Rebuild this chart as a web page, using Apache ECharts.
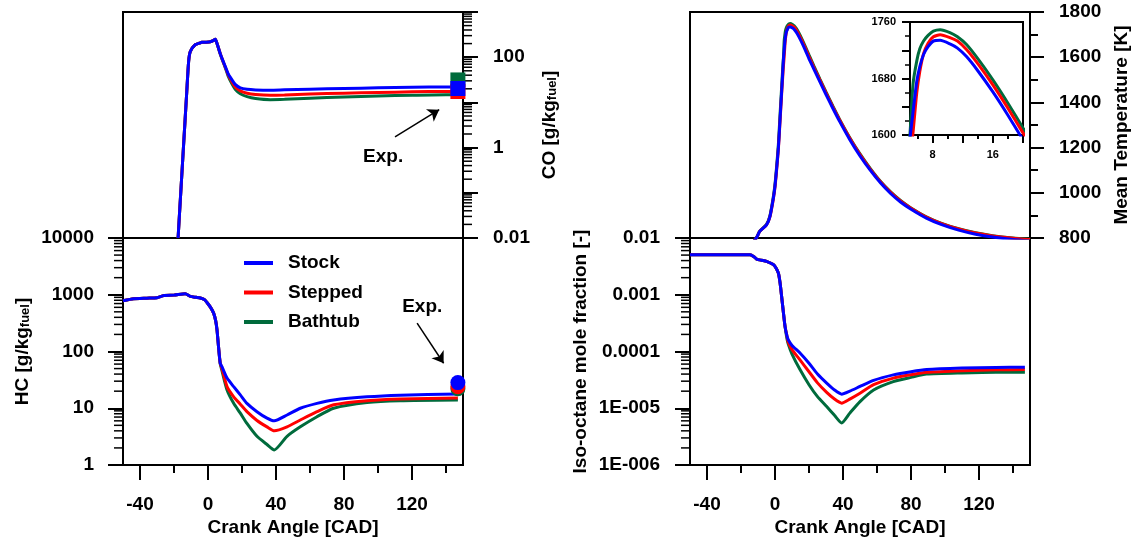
<!DOCTYPE html>
<html lang="en">
<head>
<meta charset="UTF-8">
<title>Crank angle results</title>
<script src="https://cdn.jsdelivr.net/npm/echarts@6/dist/echarts.min.js"></script>
<style>
  html, body { margin: 0; padding: 0; background: #fff; }
  #main { width: 1137px; height: 540px; }
</style>
</head>
<body>
<div id="main"></div>
<script>
// ---------- data ----------
var caseNames = ['Stock', 'Stepped', 'Bathtub'];
var caseColors = ['#0000ff', '#ff0000', '#006b3c'];

// CO [g/kg fuel]
var coCad = [-17.6, -16, -14.4, -12.5, -11.4, -10.4, -7.5, -5, -3.6, -1, 1.4, 3, 4.3, 5.5, 7.2, 8.7, 10.2, 12, 14, 16, 19, 23, 28, 36.6, 45, 60, 80, 100, 120, 140, 147];
var coStock = [0.01, 0.105, 1.08, 17, 80, 134, 189, 205, 213, 215, 220, 232, 250, 190, 120, 85, 62, 42, 32, 25, 21, 19.5, 18.9, 18.6, 19, 19.6, 20.3, 21, 21.5, 22, 22];
var coStepped = [0.01, 0.105, 1.08, 17, 80, 134, 189, 205, 213, 215, 220, 232, 250, 190, 120, 84, 60, 40, 29, 22, 18, 16, 15, 14.4, 14.6, 15.3, 16, 16.6, 17.1, 17.5, 17.5];
var coBathtub = [0.01, 0.105, 1.08, 17, 80, 134, 189, 205, 213, 215, 220, 232, 250, 190, 118, 82, 58, 37, 26, 19.5, 15.5, 13.4, 12.2, 11.5, 11.7, 12.4, 13.2, 13.9, 14.4, 14.8, 14.8];
var coExpCad = 147;
var coExp = [20.3, 17.4, 31.4];

// HC [g/kg fuel]
var hcCad = [-50, -43.8, -36, -30, -26, -20, -13.4, -10.4, -7, -4.5, -2, -0.6, 1.5, 3.3, 4.5, 5.3, 6.2, 7.2, 8.2, 11.2, 15.1, 19, 22.9, 28.8, 34.7, 39, 46.5, 54.3, 64.1, 73.9, 93.5, 113, 147];
var hcStock = [783, 850, 870, 884, 970, 985, 1040, 935, 900, 875, 820, 731, 600, 474, 350, 240, 120, 62, 54, 34, 24, 17.2, 12.2, 8.7, 6.7, 6.0, 7.6, 10, 12.2, 14, 15.9, 17, 17.9];
var hcStepped = [783, 850, 870, 884, 970, 985, 1040, 935, 900, 875, 820, 731, 600, 474, 350, 240, 120, 62, 50, 24, 15.9, 11.8, 8.7, 6.1, 4.7, 4.0, 4.7, 6.2, 8.7, 11.5, 13.6, 14.6, 15.1];
var hcBathtub = [783, 850, 870, 884, 970, 985, 1040, 935, 900, 875, 820, 731, 600, 474, 350, 240, 120, 60, 46, 21, 12.2, 8.2, 5.4, 3.2, 2.3, 1.84, 3.2, 4.7, 7.1, 10, 12.6, 13.6, 14];
var hcExpCad = 147;
var hcExp = [28.3, 24, 22];

// Mean temperature [K]
var tCad = [-50, -30, -20, -11, -9, -5, -3, -1, 0, 1, 2, 3, 4, 4.6, 5, 5.4, 5.9, 6.3, 6.8, 7.4, 8.1, 9, 10.3, 11.3, 12.5, 14, 16, 18, 20, 23, 26.5, 30, 34, 38, 44, 50, 56, 62, 68, 74, 80, 89, 98, 108, 118, 128, 140, 150];
var tStock = [560, 650, 720, 800, 829, 858, 895, 975, 1030, 1110, 1200, 1330, 1460, 1540, 1595, 1632, 1676, 1697, 1714, 1725, 1733, 1734, 1729, 1723, 1711, 1691, 1661, 1628, 1593, 1545, 1490, 1435, 1374, 1316, 1235, 1163, 1100, 1044, 997, 958, 927, 888, 859, 835, 817, 804, 793, 787];
var tStepped = [560, 650, 720, 800, 829, 858, 893, 972, 1025, 1105, 1195, 1320, 1450, 1520, 1565, 1603, 1660, 1690, 1715, 1730, 1739, 1742, 1738, 1733, 1721, 1701, 1671, 1638, 1603, 1553, 1497, 1442, 1380, 1322, 1241, 1169, 1105, 1049, 1002, 963, 932, 893, 864, 840, 822, 809, 799, 793];
var tBathtub = [560, 650, 720, 800, 830, 860, 898, 982, 1038, 1120, 1215, 1350, 1480, 1560, 1602, 1672, 1705, 1722, 1733, 1741, 1747, 1749, 1745, 1739, 1728, 1708, 1678, 1645, 1610, 1559, 1502, 1446, 1384, 1325, 1244, 1172, 1108, 1051, 1004, 965, 933, 894, 865, 841, 823, 810, 800, 795];

// Iso-octane mole fraction [-]
var isoCad = [-50, -30, -14.7, -12, -10.8, -8, -5, -1, 0.5, 2, 3, 3.9, 4.9, 5.9, 7, 7.8, 10, 14.7, 20, 25, 30.4, 35, 39.2, 44, 50, 58, 69.6, 80, 89.2, 110, 130, 147];
var isoStock = [0.00507, 0.00507, 0.00507, 0.0046, 0.00426, 0.00405, 0.00388, 0.0034, 0.003, 0.0024, 0.0016, 0.00093, 0.0005, 0.000277, 0.00019, 0.000161, 0.000128, 9.4e-5, 6.2e-5, 4.0e-5, 2.77e-5, 2.1e-5, 1.77e-5, 2.0e-5, 2.42e-5, 3.1e-5, 3.87e-5, 4.4e-5, 4.8e-5, 5.1e-5, 5.25e-5, 5.3e-5];
var isoStepped = [0.00507, 0.00507, 0.00507, 0.0046, 0.00426, 0.00405, 0.00388, 0.0034, 0.003, 0.0024, 0.0016, 0.00093, 0.0005, 0.000277, 0.00019, 0.000145, 0.000108, 7.1e-5, 4.4e-5, 2.8e-5, 1.9e-5, 1.45e-5, 1.23e-5, 1.45e-5, 1.84e-5, 2.6e-5, 3.4e-5, 3.9e-5, 4.3e-5, 4.6e-5, 4.75e-5, 4.8e-5];
var isoBathtub = [0.00507, 0.00507, 0.00507, 0.0046, 0.00426, 0.00405, 0.00388, 0.0034, 0.003, 0.0024, 0.0016, 0.00093, 0.0005, 0.000277, 0.00017, 0.000135, 9.0e-5, 4.8e-5, 2.6e-5, 1.6e-5, 1.07e-5, 7.5e-6, 5.5e-6, 8.2e-6, 1.31e-5, 2.1e-5, 2.95e-5, 3.5e-5, 4.0e-5, 4.2e-5, 4.3e-5, 4.3e-5];

// ticks
var xMajor = [-40, 0, 40, 80, 120];
var xMinor = [-20, 20, 60, 100, 140];
var insetXMajor = [8, 12, 16, 20];
var insetXLabels = [8, 16];
var insetXMinor = [6, 10, 14, 18];
var coLabelValues = [0.01, 1, 100];
var coLabels = ['0.01', '1', '100'];
var hcLabelValues = [1, 10, 100, 1000, 10000];
var hcLabels = ['1', '10', '100', '1000', '10000'];
var isoLabelValues = [1e-6, 1e-5, 1e-4, 1e-3, 1e-2];
var isoLabels = ['1E-006', '1E-005', '0.0001', '0.001', '0.01'];

// annotation anchors (data coords)
var coArrow = [[110, 1.72], [136, 6.9]];
var coText = [103, 0.64];
var hcArrow = [[123, 316], [138.6, 62]];
var hcText = [126, 621];

// ---------- helpers ----------
var X_MIN = -50, X_MAX = 150;
var FONT = 'Liberation Sans';
var black = '#000';

function zip(xs, ys) {
    return xs.map(function (x, i) { return [x, ys[i]]; });
}

function minorLog(e0, e1, edge) {
    var out = [];
    for (var e = e0; e < e1; e++) {
        for (var k = 2; k < 10; k++) out.push([edge, k * Math.pow(10, e)]);
    }
    return out;
}

function logLabel(values, labels) {
    return function (v) {
        for (var i = 0; i < values.length; i++) {
            if (Math.abs(Math.log10(v) - Math.log10(values[i])) < 1e-6) return labels[i];
        }
        return '';
    };
}

var labelStyle = { fontFamily: FONT, fontSize: 19, fontWeight: 'bold', color: black };
var nameStyle = {
    fontFamily: FONT, fontSize: 19, fontWeight: 'bold', color: black,
    rich: {
        a: { fontFamily: FONT, fontSize: 19, fontWeight: 'bold', color: black },
        b: { fontFamily: FONT, fontSize: 13, fontWeight: 'bold', color: black, verticalAlign: 'bottom', padding: [5, 0, 0, 0] }
    }
};
var axisLineStyle = { show: true, onZero: false, lineStyle: { color: black, width: 2 } };

function xTop(grid) {
    return {
        type: 'value', gridIndex: grid, position: 'bottom', min: X_MIN, max: X_MAX,
        axisLine: axisLineStyle, axisTick: { show: false }, axisLabel: { show: false }, splitLine: { show: false }
    };
}
function xBottom(grid) {
    return {
        type: 'value', gridIndex: grid, position: 'bottom', min: X_MIN, max: X_MAX,
        name: 'Crank Angle [CAD]', nameLocation: 'middle', nameGap: 53, nameTextStyle: labelStyle,
        axisLine: axisLineStyle,
        axisTick: { customValues: xMajor, length: 15, lineStyle: { color: black, width: 2 } },
        axisLabel: Object.assign({ customValues: xMajor, margin: 30 }, labelStyle),
        splitLine: { show: false }
    };
}
function xMinorAxis(grid, min, max, vals, len) {
    return {
        type: 'value', gridIndex: grid, position: 'bottom', min: min, max: max,
        axisLine: { show: false, onZero: false },
        axisTick: { customValues: vals, length: len, lineStyle: { color: black, width: 2 } },
        axisLabel: { show: false }, splitLine: { show: false }
    };
}

function tickSeries(xi, yi, data, len) {
    return {
        type: 'custom', xAxisIndex: xi, yAxisIndex: yi, clip: false, silent: true, z: 1,
        data: data,
        renderItem: function (params, api) {
            var p = api.coord([api.value(0), api.value(1)]);
            var dx = api.value(0) === X_MIN ? -len : len;
            return {
                type: 'line',
                shape: { x1: p[0], y1: p[1], x2: p[0] + dx, y2: p[1] },
                style: { stroke: black, lineWidth: 1.5 }
            };
        }
    };
}

var series = [];
function addLines(xs, sets, xi, yi) {
    [2, 1, 0].forEach(function (k) {
        series.push({
            name: caseNames[k], type: 'line', xAxisIndex: xi, yAxisIndex: yi,
            data: zip(xs, sets[k]), symbol: 'none', showSymbol: false,
            smooth: 0.2, lineStyle: { color: caseColors[k], width: 3 }, itemStyle: { color: caseColors[k] }, z: 3
        });
    });
}
function addExp(cad, vals, xi, yi, symbol) {
    [2, 1, 0].forEach(function (k) {
        series.push({
            name: caseNames[k], type: 'scatter', xAxisIndex: xi, yAxisIndex: yi, clip: false,
            data: [[cad, vals[k]]], symbol: symbol, symbolSize: 15,
            itemStyle: { color: caseColors[k], opacity: 1 }, z: 4
        });
    });
}
function addNote(xi, yi, arrow, text) {
    series.push({
        name: 'note', type: 'line', xAxisIndex: xi, yAxisIndex: yi, data: [],
        markLine: {
            silent: true, symbol: ['none', 'arrow'], symbolSize: 11,
            label: { show: false },
            lineStyle: { color: black, width: 1.5, type: 'solid' },
            data: [[{ coord: arrow[0] }, { coord: arrow[1] }]]
        },
        markPoint: {
            silent: true, symbol: 'circle', symbolSize: 1, itemStyle: { color: 'rgba(0,0,0,0)' },
            label: Object.assign({ show: true, position: 'inside', formatter: 'Exp.' }, labelStyle),
            data: [{ coord: text }]
        }
    });
}

addLines(coCad, [coStock, coStepped, coBathtub], 0, 0);
addExp(coExpCad, coExp, 0, 0, 'rect');
addNote(0, 0, coArrow, coText);
addLines(hcCad, [hcStock, hcStepped, hcBathtub], 1, 1);
addExp(hcExpCad, hcExp, 1, 1, 'circle');
addNote(1, 1, hcArrow, hcText);
addLines(tCad, [tStock, tStepped, tBathtub], 3, 2);
addLines(isoCad, [isoStock, isoStepped, isoBathtub], 4, 3);
addLines(tCad, [tStock, tStepped, tBathtub], 6, 4);
series.push(tickSeries(0, 0, minorLog(-2, 3, X_MAX), 9));
series.push(tickSeries(1, 1, minorLog(0, 4, X_MIN), 9));
series.push(tickSeries(4, 3, minorLog(-6, -2, X_MIN), 9));

var gridBase = { show: true, borderColor: black, borderWidth: 2, containLabel: false, outerBoundsMode: 'none' };

var option = {
    animation: false,
    backgroundColor: '#fff',
    textStyle: { fontFamily: FONT, fontWeight: 'bold', color: black },
    grid: [
        Object.assign({ left: 123, top: 12, width: 340, height: 226 }, gridBase),
        Object.assign({ left: 123, top: 238, width: 340, height: 227 }, gridBase),
        Object.assign({ left: 690, top: 12, width: 340, height: 226 }, gridBase),
        Object.assign({ left: 690, top: 238, width: 340, height: 227 }, gridBase),
        Object.assign({ left: 910, top: 22, width: 113, height: 113, backgroundColor: '#fff' }, gridBase)
    ],
    legend: {
        left: 239, top: 248, orient: 'vertical', icon: 'rect',
        itemWidth: 29, itemHeight: 4, itemGap: 9.5, selectedMode: false,
        data: caseNames,
        textStyle: { fontFamily: FONT, fontSize: 19, fontWeight: 'bold', color: black, lineHeight: 20, padding: [0, 0, 0, 10] }
    },
    xAxis: [
        xTop(0),
        xBottom(1),
        xMinorAxis(1, X_MIN, X_MAX, xMinor, 8),
        xTop(2),
        xBottom(3),
        xMinorAxis(3, X_MIN, X_MAX, xMinor, 8),
        {
            type: 'value', gridIndex: 4, position: 'bottom', min: 5, max: 20,
            axisLine: axisLineStyle,
            axisTick: { customValues: insetXMajor, length: 8, lineStyle: { color: black, width: 2 } },
            axisLabel: { customValues: insetXLabels, margin: 14, fontFamily: FONT, fontSize: 11, fontWeight: 'bold', color: black },
            splitLine: { show: false }
        },
        xMinorAxis(4, 5, 20, insetXMinor, 4)
    ],
    yAxis: [
        {
            type: 'log', logBase: 10, gridIndex: 0, position: 'right', min: 0.01, max: 1000,
            name: '{a|CO [g/kg}{b|fuel}{a|]}', nameLocation: 'middle', nameRotate: 90, nameGap: 77, nameTextStyle: nameStyle,
            axisLine: axisLineStyle,
            axisTick: { length: 15, lineStyle: { color: black, width: 2 } },
            axisLabel: Object.assign({ margin: 30, formatter: logLabel(coLabelValues, coLabels) }, labelStyle),
            minorTick: { show: false }, splitLine: { show: false }
        },
        {
            type: 'log', logBase: 10, gridIndex: 1, position: 'left', min: 1, max: 10000,
            name: '{a|HC [g/kg}{b|fuel}{a|]}', nameLocation: 'middle', nameRotate: 90, nameGap: 91, nameTextStyle: nameStyle,
            axisLine: axisLineStyle,
            axisTick: { length: 15, lineStyle: { color: black, width: 2 } },
            axisLabel: Object.assign({ margin: 29, formatter: logLabel(hcLabelValues, hcLabels) }, labelStyle),
            minorTick: { show: false }, splitLine: { show: false }
        },
        {
            type: 'value', gridIndex: 2, position: 'right', min: 800, max: 1800, interval: 200,
            name: 'Mean Temperature [K]', nameLocation: 'middle', nameRotate: 90, nameGap: 82, nameTextStyle: labelStyle,
            axisLine: axisLineStyle,
            axisTick: { length: 14, lineStyle: { color: black, width: 2 } },
            minorTick: { show: true, splitNumber: 2, length: 8, lineStyle: { color: black, width: 2 } },
            axisLabel: Object.assign({ margin: 29, formatter: function (v) { return String(v); } }, labelStyle),
            splitLine: { show: false }, minorSplitLine: { show: false }
        },
        {
            type: 'log', logBase: 10, gridIndex: 3, position: 'left', min: 1e-6, max: 0.01,
            name: 'Iso-octane mole fraction [-]', nameLocation: 'middle', nameRotate: 90, nameGap: 100, nameTextStyle: labelStyle,
            axisLine: axisLineStyle,
            axisTick: { length: 15, lineStyle: { color: black, width: 2 } },
            axisLabel: Object.assign({ margin: 30, formatter: logLabel(isoLabelValues, isoLabels) }, labelStyle),
            minorTick: { show: false }, splitLine: { show: false }
        },
        {
            type: 'value', gridIndex: 4, position: 'left', min: 1600, max: 1760, interval: 40,
            axisLine: axisLineStyle,
            axisTick: { length: 8, lineStyle: { color: black, width: 2 } },
            minorTick: { show: true, splitNumber: 2, length: 5, lineStyle: { color: black, width: 1.5 } },
            axisLabel: {
                margin: 14, fontFamily: FONT, fontSize: 11, fontWeight: 'bold', color: black,
                formatter: function (v) { return v % 80 === 0 ? String(v) : ''; }
            },
            splitLine: { show: false }, minorSplitLine: { show: false }
        }
    ],
    series: series
};

var myChart = echarts.init(document.getElementById('main'));
myChart.setOption(option);
</script>
</body>
</html>
